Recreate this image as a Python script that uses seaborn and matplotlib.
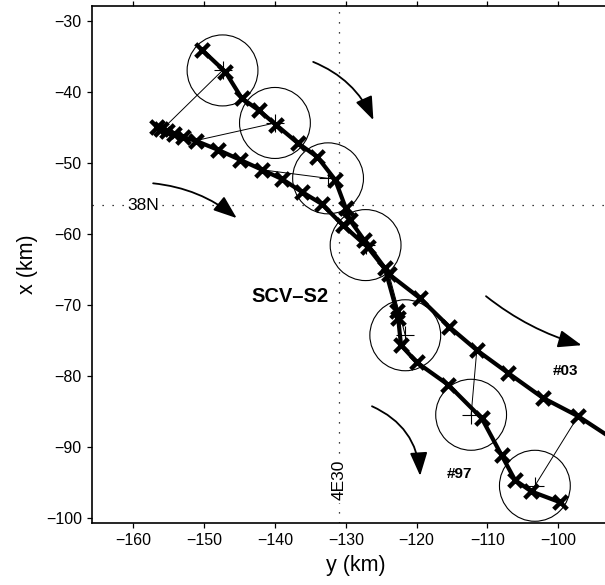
import matplotlib
matplotlib.use("Agg")
import matplotlib.pyplot as plt
from matplotlib.patches import Circle
import seaborn as sns

# float track SCV-S2, fixes in km (y = east, x = north)
t97_y = [-150.3, -147.0, -144.7, -142.3, -139.8, -136.8, -134.0, -131.5, -130.0, -129.4,
         -127.4, -124.5, -122.8, -122.6, -122.2, -120.0, -115.5, -110.8, -108.0, -106.1,
         -103.8, -99.8]
t97_x = [-34.1, -37.2, -40.9, -42.6, -44.7, -47.2, -49.2, -52.4, -56.4, -58.1,
         -60.9, -64.8, -70.9, -71.9, -75.7, -78.1, -81.3, -86.0, -91.2, -94.7,
         -96.3, -97.8]

# last point of #03 only continues the line past the frame
t03_y = [-156.7, -156.1, -155.3, -154.3, -153.0, -151.2, -148.0, -144.9, -141.8, -139.0,
         -136.2, -133.4, -130.4, -126.9, -123.9, -119.5, -115.4, -111.5, -107.1, -102.2,
         -97.2, -92.0]
t03_x = [-45.0, -45.3, -45.6, -46.0, -46.4, -46.9, -48.2, -49.6, -51.0, -52.3,
         -54.1, -55.8, -58.8, -61.9, -65.7, -69.1, -73.1, -76.4, -79.6, -83.1,
         -85.7, -89.1]

# error circles on #97 and the #03 fix each one is tied to
circ_y = [-147.4, -140.0, -132.5, -127.2, -121.6, -112.3, -103.3]
circ_x = [-37.0, -44.4, -52.2, -61.6, -74.3, -85.5, -95.5]
circ_r = 5.0
link_y = [-155.6, -150.8, -141.8, -130.4, -123.9, -111.5, -97.2]
link_x = [-45.0, -46.8, -51.0, -58.8, -65.7, -76.4, -85.7]

sns.set_theme(style="ticks")
plt.rcParams["font.family"] = ["Liberation Sans", "DejaVu Sans"]
plt.rcParams["text.color"] = "black"
plt.rcParams["axes.labelcolor"] = "black"

fig = plt.figure(figsize=(6.05, 5.85), dpi=100)
ax = fig.add_axes([0.1516, 0.1065, 0.8732, 0.8832])

# 38N / 4E30 grid lines
ax.axvline(-130.9, color="black", lw=0.9, ls=(0, (1, 7)), zorder=1)
ax.axhline(-56.0, color="black", lw=0.9, ls=(0, (1, 7)), zorder=1)

for cy, cx in zip(circ_y, circ_x):
    ax.add_patch(Circle((cy, cx), circ_r, fill=False, ec="black", lw=0.8, zorder=2))
for ly, lx, cy, cx in zip(link_y, link_x, circ_y, circ_x):
    ax.plot([ly, cy], [lx, cx], color="black", lw=0.7, zorder=2)
sns.scatterplot(x=circ_y, y=circ_x, marker="+", s=150, color="black",
                linewidth=0.8, zorder=2, ax=ax)

sns.lineplot(x=t97_y, y=t97_x, sort=False, estimator=None, color="black", lw=3, zorder=3, ax=ax)
sns.lineplot(x=t03_y, y=t03_x, sort=False, estimator=None, color="black", lw=3, zorder=3, ax=ax)
sns.scatterplot(x=t97_y + t03_y[:-1], y=t97_x + t03_x[:-1], marker="x", s=95,
                color="black", linewidth=3.2, zorder=4, ax=ax)

# current arrows
arrow_kw = dict(arrowstyle="-|>,head_length=1.2,head_width=0.45", color="black",
                lw=1.3, shrinkA=0, shrinkB=0, mutation_scale=12)
for (y0, x0, y1, x1, rad) in [(-134.6, -35.8, -126.1, -44.0, -0.2),
                              (-157.2, -52.9, -145.4, -57.8, -0.15),
                              (-110.2, -68.8, -96.7, -75.7, 0.1),
                              (-126.3, -84.3, -119.5, -94.1, -0.3)]:
    ax.annotate("", xy=(y1, x1), xytext=(y0, x0),
                arrowprops=dict(connectionstyle=f"arc3,rad={rad}", **arrow_kw))

ax.text(-137.9, -68.9, "SCV–S2", fontsize=14.5, fontweight="bold", ha="center", va="center")
ax.text(-99.0, -79.4, "#03", fontsize=11, fontweight="bold", ha="center", va="center")
ax.text(-114.0, -93.9, "#97", fontsize=11, fontweight="bold", ha="center", va="center")
ax.text(-156.4, -56.0, "38N", fontsize=12.5, ha="right", va="center",
        bbox=dict(fc="white", ec="none", pad=2), zorder=1.5)
ax.text(-130.9, -94.7, "4E30", fontsize=12.5, rotation=90, ha="center", va="center",
        bbox=dict(fc="white", ec="none", pad=2), zorder=1.5)

ax.set_xlim(-165.87, -91.28)
ax.set_ylim(-100.7, -27.93)
ax.set_xticks(range(-160, -95, 10))
ax.set_yticks(range(-100, -25, 10))
ax.tick_params(top=True, direction="out", length=3.6, width=0.9, labelsize=11.5, colors="black")
ax.spines["right"].set_visible(False)
for s in ("left", "bottom", "top"):
    ax.spines[s].set_linewidth(1.2)
    ax.spines[s].set_color("black")
ax.set_xlabel("y (km)", fontsize=15.5, labelpad=5)
ax.set_ylabel("x (km)", fontsize=15.5, labelpad=6)

fig.savefig("out.png", dpi=100)
